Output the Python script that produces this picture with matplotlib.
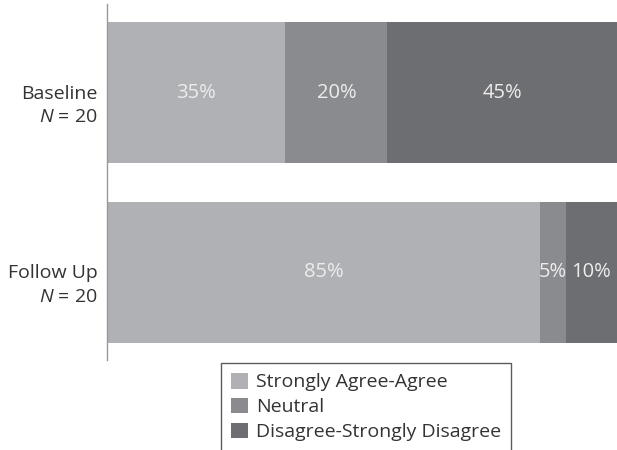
import matplotlib
matplotlib.use("Agg")
import matplotlib.pyplot as plt
from matplotlib.transforms import ScaledTranslation

# Respuestas por momento de medición (porcentajes)
grupos = ["Baseline\n$N$ = 20", "Follow Up\n$N$ = 20"]
categorias = ["Strongly Agree-Agree", "Neutral", "Disagree-Strongly Disagree"]
acuerdo = [35, 85]
neutral = [20, 5]
desacuerdo = [45, 10]
colores = ["#b0b1b5", "#8a8b8f", "#6d6e72"]

plt.rcParams["font.family"] = ["Open Sans", "DejaVu Sans"]
plt.rcParams["mathtext.fontset"] = "custom"
plt.rcParams["mathtext.rm"] = "Open Sans"
plt.rcParams["mathtext.it"] = "Open Sans:italic"

fig = plt.figure(figsize=(6.17, 4.5), dpi=100)
ax = fig.add_axes([0.1734, 0.2, 0.8266, 0.791])

y = [0, 1]
izq = [0, 0]
for valores, nombre, color in zip([acuerdo, neutral, desacuerdo], categorias, colores):
    barras = ax.barh(y, valores, left=izq, height=0.786, color=color, label=nombre)
    for b, v in zip(barras, valores):
        ax.text(b.get_x() + b.get_width() / 2, b.get_y() + b.get_height() / 2,
                f"{v}%", ha="center", va="center", color="#ededed", fontsize=14.5)
    izq = [a + v for a, v in zip(izq, valores)]

ax.set_xlim(0, 100)
ax.set_ylim(1.49, -0.493)
ax.set_yticks(y)
ax.set_yticklabels(grupos, fontsize=14, color="#333333", ha="right",
                   multialignment="right", linespacing=1.41)
ax.tick_params(axis="y", length=0, pad=7)
# la primera línea de cada etiqueta queda a la altura del centro de la barra
bajar = ScaledTranslation(0, -0.08, fig.dpi_scale_trans)
for etiqueta in ax.get_yticklabels():
    etiqueta.set_transform(etiqueta.get_transform() + bajar)
ax.set_xticks([])
for lado in ["top", "right", "bottom"]:
    ax.spines[lado].set_visible(False)
ax.spines["left"].set_color("#999999")
ax.spines["left"].set_linewidth(1)

leg = fig.legend(loc="upper left", bbox_to_anchor=(0.358, 0.193), bbox_transform=fig.transFigure,
                 borderaxespad=0, fancybox=False, fontsize=14, handlelength=0.87, handleheight=0.87,
                 handletextpad=0.45, labelspacing=0.32, borderpad=0.5, edgecolor="#333333")
leg.get_frame().set_linewidth(1)
for t in leg.get_texts():
    t.set_color("#333333")

plt.savefig("out.png", dpi=100)
